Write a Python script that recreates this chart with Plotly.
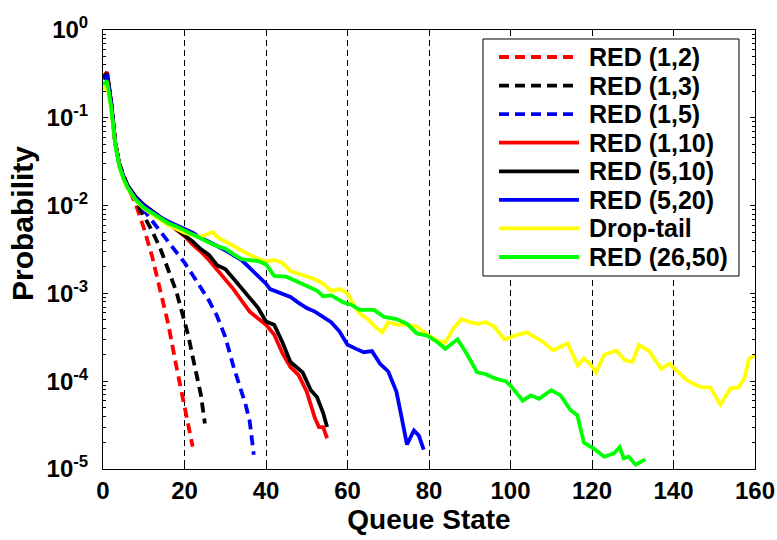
import plotly.graph_objects as go

# Queue-length distributions (probability of each queue state), read per scheme
x_red12 = [0, 1, 2, 3, 4, 5, 6, 8, 10, 12, 14, 16, 18, 20, 21, 22]
p_red12 = [0.29, 0.33, 0.15, 0.052, 0.030, 0.022, 0.0166, 0.0105, 0.0056, 0.0027,
           0.00112, 4.5e-4, 1.48e-4, 5.2e-5, 3.0e-5, 1.8e-5]

x_red13 = [0, 1, 2, 3, 4, 5, 6, 8, 10, 12, 14, 16, 18, 20, 21, 22, 23, 24, 25]
p_red13 = [0.28, 0.32, 0.148, 0.052, 0.030, 0.022, 0.017, 0.0112, 0.0076, 0.0052,
           0.0033, 0.0019, 0.00105, 4.8e-4, 3.2e-4, 1.9e-4, 1.2e-4, 7.1e-5, 3.3e-5]

x_red15 = [0, 1, 2, 3, 4, 5, 6, 8, 10, 12, 14, 16, 18, 20, 22, 24, 26, 28, 30, 32,
           34, 35, 36, 37]
p_red15 = [0.28, 0.30, 0.145, 0.051, 0.0295, 0.0214, 0.017, 0.0117, 0.0089, 0.0068,
           0.0051, 0.0039, 0.0030, 0.00224, 0.00162, 0.00117, 8.3e-4, 5.5e-4, 3.2e-4,
           1.48e-4, 7.6e-5, 5.4e-5, 3.5e-5, 1.45e-5]

x_red110 = [0, 1, 2, 3, 4, 5, 6, 8, 10, 12, 14, 16, 18, 20, 22, 24, 26, 28, 30, 32,
            34, 36, 38, 40, 42, 44, 46, 48, 50, 52, 53, 54, 55]
p_red110 = [0.29, 0.33, 0.15, 0.052, 0.0295, 0.0214, 0.017, 0.0126, 0.0102, 0.0087,
            0.0074, 0.0063, 0.0054, 0.0045, 0.0036, 0.0030, 0.0024, 0.00186, 0.00148,
            0.00112, 8.3e-4, 6.2e-4, 5.2e-4, 4.4e-4, 3.4e-4, 2.1e-4, 1.45e-4, 1.17e-4,
            7.6e-5, 3.8e-5, 3.0e-5, 3.0e-5, 2.24e-5]

x_red510 = [0, 1, 2, 3, 4, 5, 6, 8, 10, 12, 14, 16, 18, 20, 22, 24, 26, 28, 30, 32,
            34, 36, 38, 40, 42, 44, 46, 47, 49, 51, 52.5, 54, 55]
p_red510 = [0.28, 0.32, 0.148, 0.052, 0.0295, 0.0214, 0.017, 0.0126, 0.0102, 0.0087,
            0.0074, 0.0063, 0.0054, 0.0046, 0.0039, 0.0032, 0.00275, 0.0021, 0.0019,
            0.00148, 0.00115, 8.7e-4, 6.9e-4, 4.8e-4, 4.4e-4, 2.8e-4, 1.66e-4, 1.51e-4,
            1.26e-4, 7.9e-5, 6.6e-5, 4.4e-5, 3.0e-5]

x_red520 = [0, 1, 2, 3, 4, 5, 6, 8, 10, 12, 14, 16, 18, 20, 22, 24, 26, 28, 30, 32,
            34, 36, 38, 40, 41, 44, 46, 48, 50, 52, 54, 56, 58, 60, 62, 64, 66, 68, 70,
            72, 73, 74.6, 76.3, 77.5, 78.7]
p_red520 = [0.295, 0.30, 0.148, 0.051, 0.029, 0.021, 0.0166, 0.0123, 0.0100, 0.0085,
            0.0074, 0.0066, 0.0060, 0.0055, 0.0049, 0.0043, 0.0039, 0.00347, 0.0031,
            0.00275, 0.0024, 0.00195, 0.00158, 0.00129, 0.00112, 0.0010, 9.1e-4, 7.8e-4,
            6.8e-4, 6.2e-4, 5.4e-4, 4.7e-4, 3.7e-4, 2.6e-4, 2.35e-4, 2.14e-4, 2.2e-4,
            1.58e-4, 1.29e-4, 7.6e-5, 4.5e-5, 1.9e-5, 2.75e-5, 2.4e-5, 1.66e-5]

x_droptail = [0, 1, 2, 3, 4, 5, 6, 8, 10, 12, 14, 16, 18, 20, 22, 24, 26, 27, 28, 30,
              32, 34, 36, 38, 40, 42, 44, 46, 48, 50, 52, 54, 56, 58, 60, 62, 63, 65,
              66.5, 68.5, 70, 72, 74, 77, 80, 82, 84, 86, 88, 90, 92, 94, 96, 98.5, 100,
              102, 104, 106, 108, 110.5, 112, 114, 116.5, 118, 119.5, 121, 123, 126, 128,
              130, 131.5, 134, 137, 139, 141.5, 143, 145, 147, 149, 151.5, 154, 156,
              157.5, 158.5, 160]
p_droptail = [0.209, 0.24, 0.126, 0.05, 0.028, 0.02, 0.0158, 0.0115, 0.0093, 0.0079,
              0.0069, 0.006, 0.0054, 0.0049, 0.0046, 0.0044, 0.0048, 0.005, 0.0044,
              0.0039, 0.0035, 0.0031, 0.00275, 0.0025, 0.0023, 0.0024, 0.00224, 0.0018,
              0.00166, 0.00155, 0.00145, 0.00129, 0.00107, 0.00112, 0.001, 6.8e-4,
              5.9e-4, 5.1e-4, 4.3e-4, 3.6e-4, 4.7e-4, 4.4e-4, 4.4e-4, 4.2e-4, 3.3e-4,
              2.9e-4, 2.75e-4, 4.0e-4, 5.1e-4, 4.7e-4, 4.5e-4, 4.7e-4, 4.2e-4, 3.0e-4,
              3.2e-4, 3.4e-4, 3.6e-4, 3.2e-4, 2.8e-4, 2.24e-4, 2.4e-4, 2.7e-4, 1.51e-4,
              1.82e-4, 1.58e-4, 1.26e-4, 2.0e-4, 2.24e-4, 1.74e-4, 1.66e-4, 2.6e-4,
              2.2e-4, 1.38e-4, 1.58e-4, 1.23e-4, 1.05e-4, 9.3e-5, 8.5e-5, 8.5e-5, 5.4e-5,
              8.3e-5, 8.5e-5, 1.12e-4, 1.78e-4, 2.0e-4]

x_red2650 = [0, 1, 2, 3, 4, 5, 6, 8, 10, 12, 14, 16, 18, 20, 22, 24, 26, 28, 30, 32,
             34, 36, 38, 40, 42, 45, 48, 50, 52.6, 54, 56, 59, 61, 63, 66.5, 69, 72,
             74.6, 77, 79.6, 82, 84, 87, 89.4, 91.8, 94, 96.3, 98.8, 100, 103, 105, 107,
             110, 112.3, 114.7, 116.4, 118, 120.5, 123, 125.4, 126.8, 127.8, 129, 130.7,
             133.1]
p_red2650 = [0.24, 0.263, 0.132, 0.05, 0.028, 0.0204, 0.0162, 0.0117, 0.0095, 0.0083,
             0.0072, 0.0063, 0.0058, 0.0052, 0.0047, 0.0042, 0.0038, 0.00347, 0.00324,
             0.0028, 0.00245, 0.0024, 0.00234, 0.00214, 0.00158, 0.00155, 0.00135,
             0.00123, 0.00107, 9.3e-4, 9.5e-4, 7.9e-4, 7.4e-4, 6.5e-4, 6.5e-4, 5.4e-4,
             5.1e-4, 4.5e-4, 3.5e-4, 3.3e-4, 2.8e-4, 2.34e-4, 3.0e-4, 2.0e-4, 1.26e-4,
             1.2e-4, 1.07e-4, 1.0e-4, 8.9e-5, 6.0e-5, 6.9e-5, 6.3e-5, 7.9e-5, 6.9e-5,
             4.7e-5, 4.1e-5, 2.0e-5, 1.7e-5, 1.38e-5, 1.51e-5, 1.78e-5, 1.32e-5, 1.38e-5,
             1.12e-5, 1.29e-5]

x_ticks = [0, 20, 40, 60, 80, 100, 120, 140, 160]
y_ticks = [1, 1e-1, 1e-2, 1e-3, 1e-4, 1e-5]
y_ticktext = ["10<sup>0</sup>", "10<sup>-1</sup>", "10<sup>-2</sup>",
              "10<sup>-3</sup>", "10<sup>-4</sup>", "10<sup>-5</sup>"]

DASH = "10px,6px"
series = [
    ("RED (1,2)", x_red12, p_red12, "#ff0000", DASH),
    ("RED (1,3)", x_red13, p_red13, "#000000", DASH),
    ("RED (1,5)", x_red15, p_red15, "#0000ff", DASH),
    ("RED (1,10)", x_red110, p_red110, "#ff0000", "solid"),
    ("RED (5,10)", x_red510, p_red510, "#000000", "solid"),
    ("RED (5,20)", x_red520, p_red520, "#0000ff", "solid"),
    ("Drop-tail", x_droptail, p_droptail, "#ffff00", "solid"),
    ("RED (26,50)", x_red2650, p_red2650, "#00ff00", "solid"),
]

FONT = "Liberation Sans, Arial, sans-serif"
LINE_W = 3.8

# figure geometry (pixels)
W, H = 777, 540
ML, MR, MT, MB = 103, 22, 30, 71
PW, PH = W - ML - MR, H - MT - MB


def px_to_paper(px, py):
    return (px - ML) / PW, (H - MB - py) / PH


fig = go.Figure()
for name, xs, ps, color, dash in series:
    fig.add_trace(go.Scatter(
        x=xs, y=ps, name=name, mode="lines",
        line=dict(color=color, width=LINE_W, dash=dash),
    ))

# boxed legend in the upper right, drawn with long line samples
shapes, annotations = [], []
bx0, by0 = px_to_paper(483, 39)
bx1, by1 = px_to_paper(739, 276)
shapes.append(dict(type="rect", xref="paper", yref="paper", x0=bx0, x1=bx1,
                   y0=by1, y1=by0, line=dict(color="black", width=1),
                   fillcolor="white", layer="above"))
row_top, row_step = 57, 28.57
for i, (name, _, _, color, dash) in enumerate(series):
    py = row_top + i * row_step
    lx0, ly = px_to_paper(499, py)
    lx1, _ = px_to_paper(579, py)
    tx, _ = px_to_paper(587, py)
    shapes.append(dict(type="line", xref="paper", yref="paper", x0=lx0, x1=lx1,
                       y0=ly, y1=ly, line=dict(color=color, width=LINE_W, dash=dash),
                       layer="above"))
    annotations.append(dict(xref="paper", yref="paper", x=tx, y=ly, text=name,
                            showarrow=False, xanchor="left", yanchor="middle",
                            font=dict(family=FONT, size=25, color="black",
                                      weight="bold")))

# vertical y-axis title
tx, ty = px_to_paper(22, 224)
annotations.append(dict(xref="paper", yref="paper", x=tx, y=ty, text="Probability",
                        textangle=-90, showarrow=False, xanchor="center",
                        yanchor="middle",
                        font=dict(family=FONT, size=30, color="black", weight="bold")))

fig.update_layout(
    width=W, height=H,
    margin=dict(l=ML, r=MR, t=MT, b=MB),
    paper_bgcolor="white", plot_bgcolor="white",
    font=dict(family=FONT, size=24, color="black", weight="bold"),
    showlegend=False,
    shapes=shapes, annotations=annotations,
)

fig.update_xaxes(
    range=[0, 160], tickmode="array", tickvals=x_ticks, automargin=False,
    showline=True, linecolor="black", linewidth=1, mirror="ticks",
    ticks="inside", ticklen=5, tickcolor="black",
    showgrid=True, gridcolor="black", gridwidth=1, griddash="6px,4px",
    zeroline=False,
    tickfont=dict(family=FONT, size=24, color="black", weight="bold"),
    title=dict(text="Queue State", standoff=6,
               font=dict(family=FONT, size=28, color="black", weight="bold")),
)

fig.update_yaxes(
    type="log", range=[-5, 0], tickmode="array", tickvals=y_ticks, ticktext=y_ticktext,
    automargin=False,
    showline=True, linecolor="black", linewidth=1, mirror="ticks",
    ticks="inside", ticklen=5, tickcolor="black", ticklabelstandoff=9,
    minor=dict(ticks="inside", ticklen=3, tickcolor="black", dtick="D1", showgrid=False),
    showgrid=False, zeroline=False,
    tickfont=dict(family=FONT, size=24, color="black", weight="bold"),
)

fig.write_html("out.html")
